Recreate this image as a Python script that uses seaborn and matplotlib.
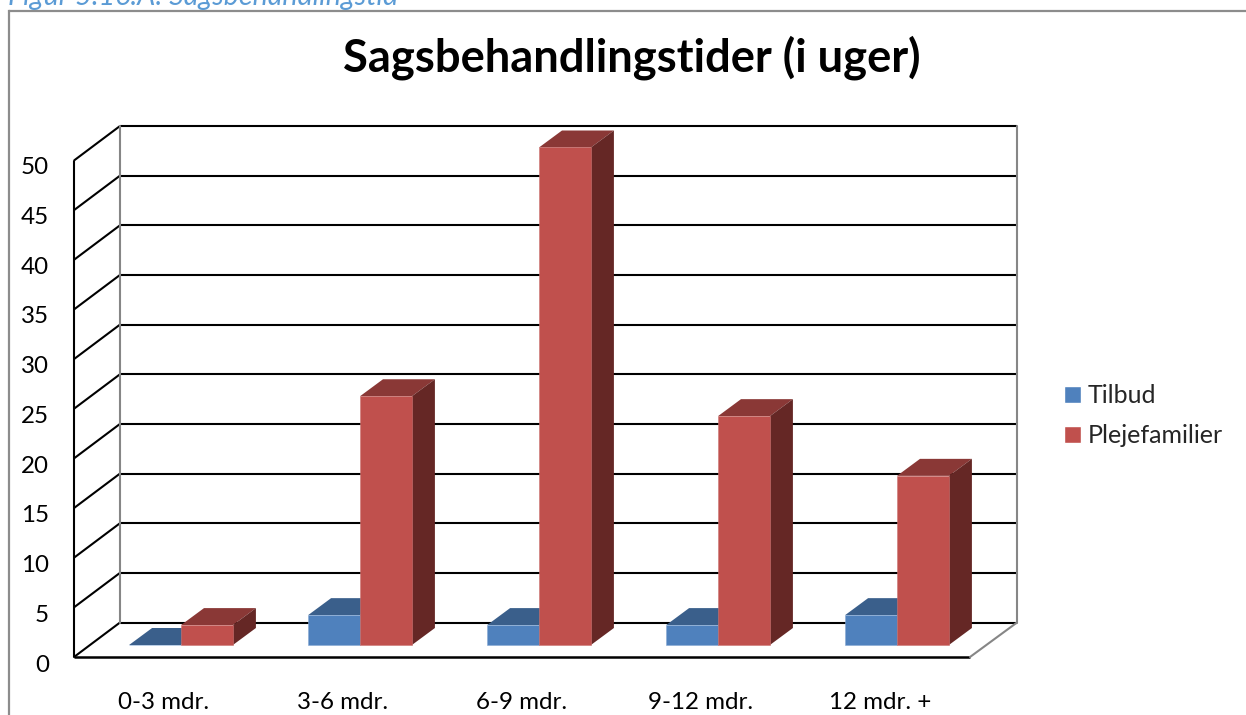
import matplotlib
matplotlib.use("Agg")
import matplotlib.pyplot as plt
from matplotlib.patches import Polygon
from matplotlib.transforms import ScaledTranslation
import pandas as pd
import seaborn as sns

categories = ["0-3 mdr.", "3-6 mdr.", "6-9 mdr.", "9-12 mdr.", "12 mdr. +"]
tilbud = [0, 3, 2, 2, 3]
plejefamilier = [2, 25, 50, 23, 17]
series_names = ["Tilbud", "Plejefamilier"]
y_ticks = [0, 5, 10, 15, 20, 25, 30, 35, 40, 45, 50]

W, H = 1246, 715
FRONT = {"Tilbud": "#4F81BD", "Plejefamilier": "#C0504D"}
TOP = {"Tilbud": "#3A5F8B", "Plejefamilier": "#8A3836"}
SIDE = {"Tilbud": "#2E4B6E", "Plejefamilier": "#652725"}
EDGE = {"Tilbud": "#86A9D4", "Plejefamilier": "#CC7673"}
GREY = "#868686"

sns.set_style("white")
plt.rcParams["font.family"] = ["Lato", "DejaVu Sans"]

fig = plt.figure(figsize=(W / 100, H / 100), dpi=100, facecolor="white")

# Pixel-space layer for the box walls and the frame
bg = fig.add_axes([0, 0, 1, 1], zorder=0)
bg.set_xlim(0, W)
bg.set_ylim(H, 0)
bg.axis("off")

fl, fb = 74, 657          # front-left-bottom corner
bl, bb = 120, 622.5       # back-left-bottom corner
fr, br = 970, 1017
unit = 9.93
lw = 1.5

for v in y_ticks:
    yb = bb - v * unit
    yf = fb - v * unit
    bg.plot([bl, br], [yb, yb], color="black", lw=lw, solid_capstyle="butt")
    bg.plot([fl, bl], [yf, yb], color="black", lw=lw, solid_capstyle="butt")
top_back = bb - max(y_ticks) * unit
top_front = fb - max(y_ticks) * unit
bg.plot([bl, bl], [top_back, bb], color=GREY, lw=lw)
bg.plot([br, br], [top_back, bb], color=GREY, lw=lw)
bg.plot([fl, fl], [top_front, fb], color="black", lw=lw)
bg.plot([fl, fr], [fb, fb], color="black", lw=lw + 0.3, solid_capstyle="butt")
bg.plot([fr, br], [fb, bb], color=GREY, lw=lw)

# Outer frame and the clipped caption above it
bg.plot([9, 9], [H, 11], color="#8C8C8C", lw=1.6, solid_capstyle="projecting")
bg.plot([9, W], [11, 11], color="#8C8C8C", lw=1.6)
bg.text(8, 5, "Figur 5.16.A: Sagsbehandlingstid", color="#5B9BD5", style="italic",
        fontsize=20.6, ha="left", va="baseline")
bg.text(631.5, 71.5, "Sagsbehandlingstider (i uger)", color="black", fontweight="bold",
        fontsize=32.7, ha="center", va="baseline")

# Bars on their own axes: value 0 at y=645 px, 50 at y=147.5 px
step = 179
ax_left, ax_right = 181 - step / 2, 897 + step / 2
ax_bottom, ax_top = 645, 147.5
ax = fig.add_axes([ax_left / W, 1 - ax_bottom / H, (ax_right - ax_left) / W, (ax_bottom - ax_top) / H],
                  zorder=1)
ax.patch.set_alpha(0)

df = pd.DataFrame({
    "Periode": categories * 2,
    "Serie": [series_names[0]] * len(categories) + [series_names[1]] * len(categories),
    "Uger": tilbud + plejefamilier,
})
sns.barplot(data=df, x="Periode", y="Uger", hue="Serie", order=categories, hue_order=series_names,
            palette=FRONT, width=0.58, gap=0, saturation=1, ax=ax, legend=True)
ax.set_xlim(-0.5, len(categories) - 0.5)
ax.set_ylim(0, 50)
ax.set_xlabel("")
ax.set_ylabel("")
ax.set_yticks(y_ticks)
sns.despine(ax=ax, left=True, bottom=True, top=True, right=True)

# 3D extrusion derived from each drawn bar
dx = 23 / step
dy = 17 / ((ax_bottom - ax_top) / 50)
for i, (name, cont) in enumerate(zip(series_names, ax.containers)):
    z = 3 + i
    for p in cont:
        x0, x1, h = p.get_x(), p.get_x() + p.get_width(), p.get_height()
        p.set_zorder(z + 0.2)
        p.set_edgecolor(EDGE[name])
        p.set_linewidth(0.4)
        p.set_clip_on(False)
        ax.add_patch(Polygon([(x0, h), (x1, h), (x1 + dx, h + dy), (x0 + dx, h + dy)],
                             closed=True, fc=TOP[name], ec="none", zorder=z, clip_on=False))
        ax.add_patch(Polygon([(x1, 0), (x1 + dx, dy), (x1 + dx, h + dy), (x1, h)],
                             closed=True, fc=SIDE[name], ec="none", zorder=z + 0.1, clip_on=False))

# Tick labels sit on the front plane
ax.tick_params(axis="both", length=0, labelsize=17.4, labelcolor="black")
ax.tick_params(axis="y", pad=30.5)
ax.tick_params(axis="x", pad=34)
down = ScaledTranslation(0, -18.2 / 100, fig.dpi_scale_trans)
left = ScaledTranslation(-17 / 100, 0, fig.dpi_scale_trans)
for t in ax.get_yticklabels():
    t.set_transform(t.get_transform() + down)
for t in ax.get_xticklabels():
    t.set_transform(t.get_transform() + left)

# Legend
handles, labels = ax.get_legend_handles_labels()
ax.get_legend().remove()
leg = fig.legend(handles, labels, loc="upper left", bbox_to_anchor=(1044 / W, 1 - 364 / H),
                 frameon=False, fontsize=18, handlelength=0.68, handleheight=0.68,
                 handletextpad=0.28, labelspacing=0.7, borderpad=0.3)

fig.savefig("out.png", dpi=100)
